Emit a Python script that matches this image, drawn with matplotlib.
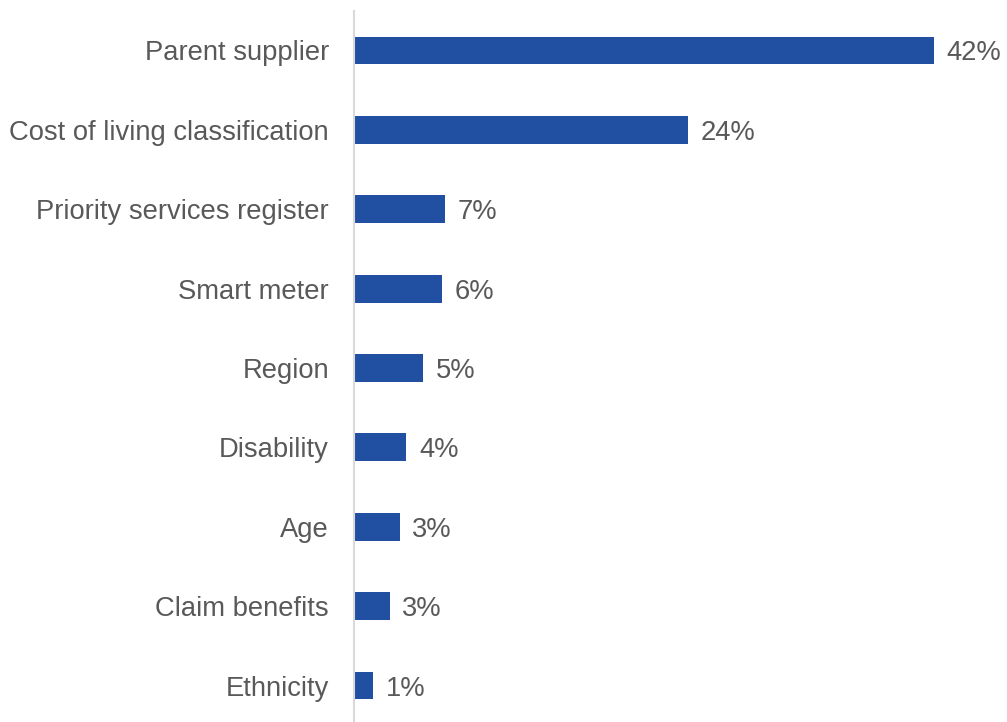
import matplotlib
matplotlib.use("Agg")
import matplotlib.pyplot as plt

categories = ["Parent supplier", "Cost of living classification", "Priority services register",
              "Smart meter", "Region", "Disability", "Age", "Claim benefits", "Ethnicity"]
values = [42.0, 24.2, 6.6, 6.4, 5.0, 3.8, 3.3, 2.6, 1.4]

plt.rcParams['font.family'] = ['Liberation Sans', 'DejaVu Sans']

W, H = 1007, 722
fig = plt.figure(figsize=(W / 100, H / 100), dpi=100)
left = 354 / W
ax = fig.add_axes([left, (722 - 725.2) / H, 1 - left, 714.4 / H])

y = list(range(len(categories)))
bars = ax.barh(y, values, height=0.35, color="#2150A3", zorder=2)
ax.set_ylim(len(categories) - 0.5, -0.5)
ax.set_xlim(0, 42 * (W - 354) / 580)
ax.set_yticks(y)
ax.set_yticklabels(categories, fontsize=19.7, color="#595959", va="center_baseline")
ax.tick_params(axis="y", length=0, pad=18)
ax.set_xticks([])
for s in ["top", "right", "bottom"]:
    ax.spines[s].set_visible(False)
ax.spines["left"].set_color("#D9D9D9")
ax.spines["left"].set_linewidth(1.5)

for b, v in zip(bars, values):
    ax.annotate(f"{v:.0f}%", (b.get_width(), b.get_y() + b.get_height() / 2),
                xytext=(9, 0), textcoords="offset points", va="center_baseline", ha="left",
                fontsize=19.7, color="#595959")

fig.savefig("out.png", dpi=100)
